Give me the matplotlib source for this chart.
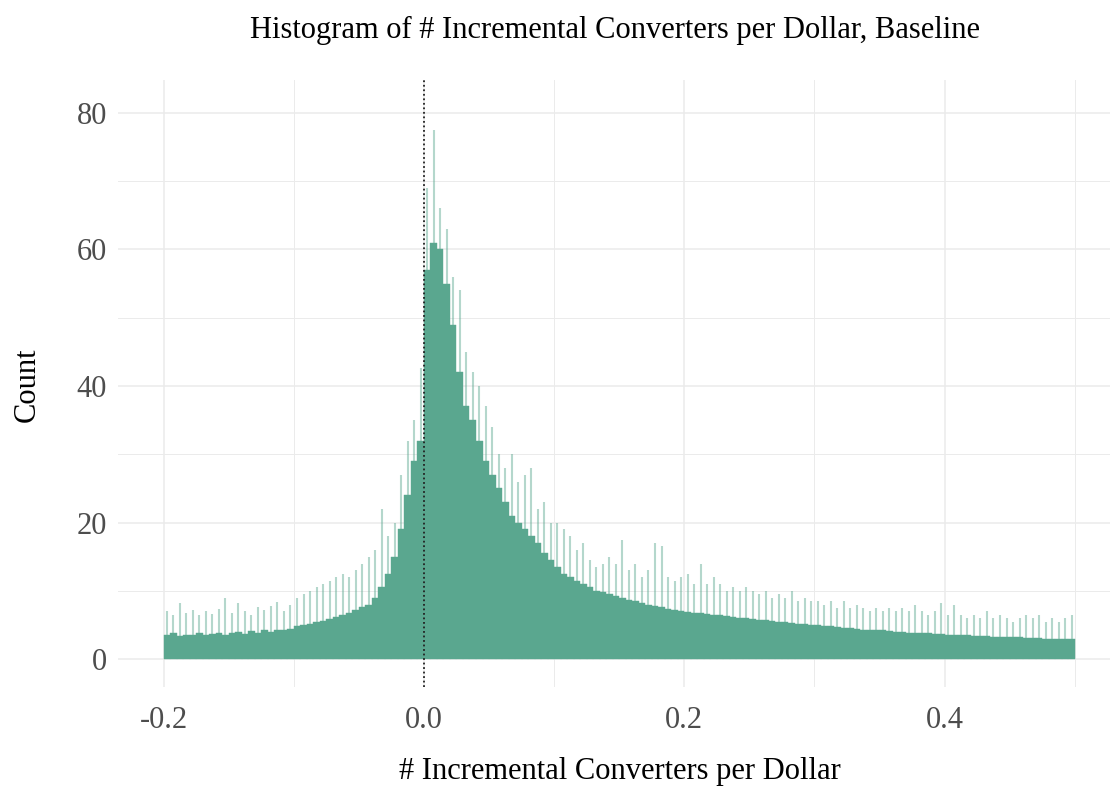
import numpy as np
import matplotlib
matplotlib.use("Agg")
import matplotlib.pyplot as plt

# histogram, bins of 0.005 from -0.2 to 0.5
bin_start = -0.2
bin_width = 0.005
# typical (solid) height per bin
counts = [
    3.5, 3.8, 3.4, 3.6, 3.5, 3.9, 3.6, 3.7, 3.8, 3.6,
    3.9, 4.0, 3.7, 4.1, 3.9, 4.2, 4.0, 4.3, 4.2, 4.4,
    4.8, 5.0, 5.2, 5.4, 5.6, 5.9, 6.2, 6.5, 6.8, 7.2, 7.6, 8.0,
    9.0, 10.5, 12.5, 15.0, 19.0, 24.0, 29.0, 32.0,
    57.0, 61.0, 60.0, 55.0, 49.0, 42.0, 37.0, 35.0, 32.0, 29.0,
    27.0, 25.0, 23.0, 21.0, 20.0, 19.0, 18.0, 17.0, 15.5, 14.5,
    13.5, 12.5, 12.0, 11.5, 11.0, 10.5, 10.0, 9.8, 9.5, 9.2,
    9.0, 8.7, 8.5, 8.2, 8.0, 7.8, 7.6, 7.4, 7.2, 7.0,
    6.9, 6.8, 6.7, 6.6, 6.5, 6.4, 6.3, 6.2, 6.1, 6.0,
    5.9, 5.8, 5.7, 5.6, 5.5, 5.4, 5.3, 5.2, 5.1, 5.0,
    5.0, 4.9, 4.8, 4.7, 4.6, 4.5, 4.4, 4.3, 4.3, 4.2,
    4.2, 4.1, 4.0, 4.0, 3.9, 3.9, 3.8, 3.8, 3.7, 3.7,
    3.6, 3.6, 3.5, 3.5, 3.4, 3.4, 3.4, 3.3, 3.3, 3.2,
    3.2, 3.2, 3.1, 3.1, 3.1, 3.0, 3.0, 3.0, 3.0, 2.9,
]
# tallest spike seen in each bin
peaks = [
    7.0, 6.5, 8.2, 6.8, 7.2, 6.4, 7.0, 6.6, 7.4, 9.0,
    6.8, 8.2, 7.0, 6.5, 7.6, 7.2, 7.8, 8.4, 7.0, 8.0,
    9.0, 9.5, 10.0, 10.5, 11.0, 11.5, 12.0, 12.5, 12.0, 13.0, 14.0, 15.0,
    16.0, 22.0, 18.0, 20.0, 27.0, 32.0, 35.0, 42.6,
    69.0, 77.5, 66.0, 63.0, 56.0, 54.0, 45.0, 42.0, 40.0, 37.0,
    34.0, 30.0, 28.0, 30.0, 26.0, 27.0, 28.0, 22.0, 23.0, 20.0,
    20.0, 19.0, 18.0, 16.0, 17.0, 14.5, 13.5, 14.0, 15.0, 14.0,
    17.4, 13.0, 14.0, 12.0, 13.0, 17.0, 16.5, 12.0, 11.5, 12.0,
    12.5, 11.0, 14.0, 11.0, 12.0, 11.0, 10.0, 10.5, 10.0, 10.5,
    10.0, 9.5, 10.0, 9.0, 9.5, 9.0, 10.0, 8.5, 9.0, 8.5,
    8.5, 8.0, 8.5, 7.5, 8.5, 7.5, 8.0, 7.5, 7.0, 7.5,
    7.0, 7.5, 7.0, 7.5, 7.0, 8.0, 7.0, 6.5, 7.0, 8.2,
    6.5, 8.0, 6.5, 6.0, 6.5, 6.0, 7.0, 6.0, 6.5, 6.0,
    5.5, 6.0, 6.5, 6.0, 6.5, 5.5, 6.0, 5.5, 6.0, 6.5,
]

x_ticks = [-0.2, 0.0, 0.2, 0.4]
x_tick_labels = ["-0.2", "0.0", "0.2", "0.4"]
y_ticks = [0, 20, 40, 60, 80]

fill = "#5aa78f"
grid_col = "#ebebeb"

plt.rcParams['font.family'] = ['Liberation Serif', 'DejaVu Serif']

fig = plt.figure(figsize=(11.1, 7.87), dpi=100)
ax = fig.add_axes([118 / 1110, 1 - 686.5 / 787, 992 / 1110, (686.5 - 80) / 787])

edges = bin_start + bin_width * np.arange(len(counts) + 1)
centers = (edges[:-1] + edges[1:]) / 2

# light spikes above the solid body
ax.vlines(centers, 0, peaks, color=fill, lw=1.5, alpha=0.45, zorder=2)
ax.bar(edges[:-1], counts, width=bin_width, align="edge", color=fill,
       edgecolor=fill, lw=0.3, zorder=3)
ax.axvline(0, color="#222222", lw=1.3, ls=(0, (1, 1.5)), zorder=4)

ax.set_xlim(-0.235, 0.527)
ax.set_ylim(-4.0, 84.8)

ax.set_xticks(x_ticks)
ax.set_xticklabels(x_tick_labels)
ax.set_xticks([-0.1, 0.1, 0.3, 0.5], minor=True)
ax.set_yticks(y_ticks)
ax.set_yticks([10, 30, 50, 70], minor=True)
ax.grid(True, which="major", color=grid_col, lw=1.1, zorder=0)
ax.grid(True, which="minor", color=grid_col, lw=0.7, zorder=0)
ax.set_axisbelow(True)
for s in ax.spines.values():
    s.set_visible(False)
ax.tick_params(which="both", length=0)
ax.tick_params(axis="x", labelsize=22, labelcolor="#4d4d4d", pad=14)
ax.tick_params(axis="y", labelsize=22, labelcolor="#4d4d4d", pad=8)

fig.text(615 / 1110, 1 - 30 / 787, "Histogram of # Incremental Converters per Dollar, Baseline",
         ha="center", va="center", fontsize=22)
fig.text(620 / 1110, 1 - 772 / 787, "# Incremental Converters per Dollar",
         ha="center", va="center", fontsize=22)
fig.text(27 / 1110, 1 - 385 / 787, "Count", ha="center", va="center",
         rotation=90, fontsize=22)

fig.savefig("out.png", dpi=100)
